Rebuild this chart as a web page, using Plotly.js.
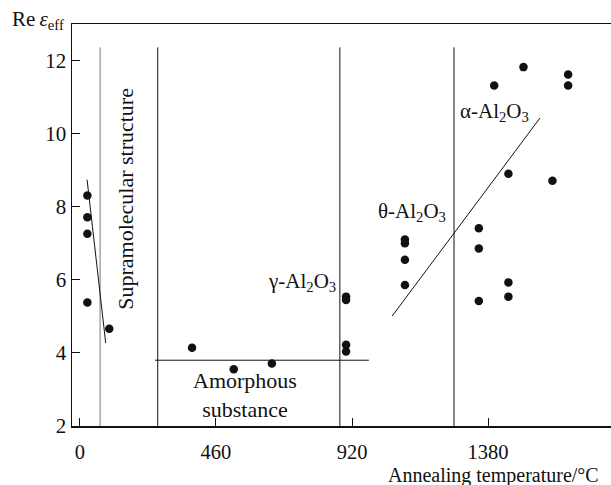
<!DOCTYPE html>
<html>
<head>
<meta charset="utf-8">
<script src="https://cdn.plot.ly/plotly-3.0.1.min.js"></script>
<style>html,body{margin:0;padding:0;background:#fff;}#chart{width:611px;height:485px;}</style>
</head>
<body>
<div id="chart"></div>
<script>
// Measured points (annealing temperature, °C ; Re eps_eff)
const tempX = [25, 25, 25, 25, 99, 379, 520, 649, 900, 900, 900, 900, 1099, 1099, 1099, 1099, 1349, 1349, 1349, 1449, 1449, 1449, 1598, 1401, 1500, 1651, 1651];
const reEff = [8.31, 7.71, 7.26, 5.38, 4.66, 4.14, 3.55, 3.71, 5.54, 5.45, 4.22, 4.04, 7.10, 7.00, 6.55, 5.86, 7.41, 6.86, 5.42, 8.90, 5.93, 5.54, 8.71, 11.32, 11.82, 11.62, 11.32];

// Phase boundaries (vertical lines)
const boundaryX = [68, 263, 879, 1265];
const boundaryY = [2, 12.36];

// Trend lines
const supraLineX = [24, 87];
const supraLineY = [8.74, 4.27];
const amorphLineX = [254, 977];
const amorphLineY = [3.80, 3.80];
const aluminaLineX = [1056, 1556];
const aluminaLineY = [5.01, 10.43];

// Region labels
const labelText = ['Supramolecular structure', 'Amorphous<br>substance', 'γ-Al<sub>2</sub>O<sub>3</sub>', 'θ-Al<sub>2</sub>O<sub>3</sub>', 'α-Al<sub>2</sub>O<sub>3</sub>'];
const labelX = [156, 558, 751, 1123, 1403];
const labelY = [8.22, 2.85, 5.95, 7.86, 10.58];
const labelAngle = [-90, 0, 0, 0, 0];
const labelSize = [22, 22, 21, 21, 21];

// Axis ticks
const xTicks = [0, 460, 920, 1380];
const yTicks = [2, 4, 6, 8, 10, 12];

const FONT = 'Liberation Serif';
const traces = [];
boundaryX.forEach((bx, i) => {
  traces.push({x: [bx, bx], y: boundaryY, mode: 'lines', line: {color: i === 0 ? '#777' : '#111', width: 1}, hoverinfo: 'skip', showlegend: false});
});
[[supraLineX, supraLineY], [amorphLineX, amorphLineY], [aluminaLineX, aluminaLineY]].forEach(([lx, ly]) => {
  traces.push({x: lx, y: ly, mode: 'lines', line: {color: '#111', width: 1}, hoverinfo: 'skip', showlegend: false});
});
traces.push({x: tempX, y: reEff, mode: 'markers', marker: {color: '#111', size: 8.5}, showlegend: false});

const annotations = labelText.map((t, i) => ({
  x: labelX[i], y: labelY[i], xref: 'x', yref: 'y', text: t, showarrow: false,
  textangle: labelAngle[i], font: {family: FONT, size: labelSize[i], color: '#111'}, align: 'center'
}));
annotations.push({xref: 'paper', yref: 'paper', x: 0, y: 1, xanchor: 'right', yanchor: 'middle', xshift: -6, yshift: 4,
  text: 'Re\u2009<i>ε</i><sub>eff</sub>', showarrow: false, font: {family: FONT, size: 21, color: '#111'}});
annotations.push({xref: 'paper', yref: 'paper', x: 1, y: 0, xanchor: 'right', yanchor: 'top', xshift: -10, yshift: -36,
  text: 'Annealing temperature/°C', showarrow: false, font: {family: FONT, size: 20, color: '#111'}});

const layout = {
  width: 611, height: 485,
  margin: {l: 72, r: 0, t: 24, b: 59},
  paper_bgcolor: '#fff', plot_bgcolor: '#fff',
  font: {family: FONT, color: '#111'},
  xaxis: {range: [-27, 1796], tickvals: xTicks, ticktext: xTicks.map(String), ticks: 'inside', ticklen: 8,
    tickcolor: '#111', showline: true, linecolor: '#111', linewidth: 1.5, mirror: true, showgrid: false, zeroline: false,
    tickfont: {family: FONT, size: 20.5, color: '#111'}, ticklabelstandoff: 7},
  yaxis: {range: [2, 13], tickvals: yTicks, ticktext: yTicks.map(String), ticks: 'inside', ticklen: 8,
    tickcolor: '#111', showline: true, linecolor: '#111', linewidth: 1.5, showgrid: false, zeroline: false,
    tickfont: {family: FONT, size: 21, color: '#111'}},
  annotations: annotations
};
Plotly.newPlot('chart', traces, layout, {displayModeBar: false, staticPlot: true});
</script>
</body>
</html>
